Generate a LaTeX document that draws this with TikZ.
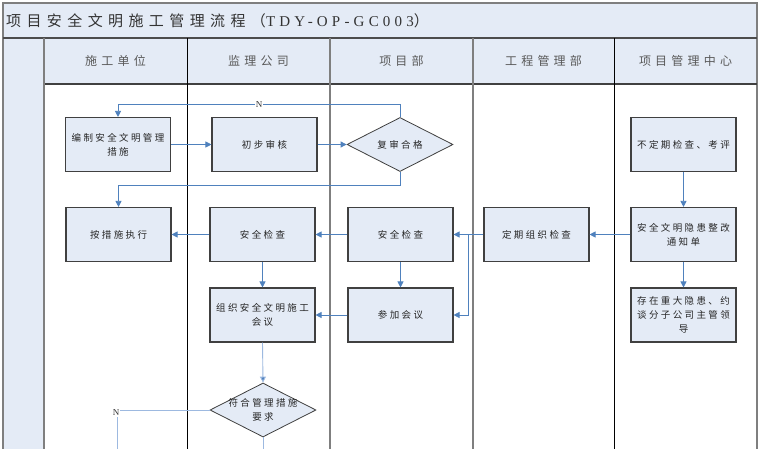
\documentclass[tikz,border=0pt]{standalone}
\usepackage{fontspec}
\newfontfamily\boxfont[LetterSpace=25]{Noto Sans CJK SC}
\newfontfamily\hdrfont[LetterSpace=35]{Noto Sans CJK SC}
\newfontfamily\ttlfont[LetterSpace=36]{Noto Sans CJK SC}
\newfontfamily\ttllat[LetterSpace=28]{Liberation Serif}
\setmainfont{Liberation Serif}
\usetikzlibrary{arrows.meta,shapes.geometric}
\definecolor{fillb}{HTML}{E4EBF6}
\definecolor{linb}{HTML}{4F81BD}
\definecolor{linl}{HTML}{9DB9E0}
\definecolor{bord}{HTML}{404040}
\definecolor{frm}{HTML}{7F7F7F}
\tikzset{
  stepbox/.style={draw=bord,line width=1.1pt,fill=fillb,minimum width=105pt,minimum height=54pt,inner sep=0pt,align=center,font=\boxfont\fontsize{9.5}{14}\selectfont,text=black!85},
  decbox/.style={draw=bord,line width=0.8pt,fill=fillb,diamond,minimum width=106pt,minimum height=54pt,inner sep=0pt},
  dectext/.style={align=center,inner sep=0pt,font=\boxfont\fontsize{9.5}{14}\selectfont,text=black!85},
  hdr/.style={font=\hdrfont\fontsize{12}{14}\selectfont,text=black!65,inner sep=0pt},
  arr/.style={draw=linb,line width=0.8pt,-{Triangle[length=6pt,width=6pt]}},
  arrl/.style={draw=linl,line width=0.9pt,-{Triangle[length=6pt,width=6pt,fill=linb]}},
  lin/.style={draw=linl,line width=0.9pt},
  nlab/.style={font=\fontsize{9}{10}\selectfont,fill=white,inner sep=1pt,text=black!80}
}
\begin{document}
\begin{tikzpicture}[x=1pt,y=-1pt]
\useasboundingbox (0,0) rectangle (760,449);
\clip (0,0) rectangle (760,449);
% backgrounds
\fill[white] (0,0) rectangle (760,449);
\fill[fillb] (3,3) rectangle (757,84);
\fill[fillb] (3,38) rectangle (44,460);
% frame lines
\draw[frm,line width=1.2pt] (3,460) -- (3,3) -- (757,3) -- (757,460);
\draw[black!70,line width=1.6pt] (3,38) -- (757,38);
\draw[black!75,line width=1.2pt] (44,84) -- (757,84);
\draw[frm,line width=1.1pt] (44,38) -- (44,460);
\draw[black,line width=0.9pt] (187,38) -- (187,460);
\draw[frm,line width=1.1pt] (330,38) -- (330,460);
\draw[frm,line width=1.1pt] (473,38) -- (473,460);
\draw[black,line width=0.9pt] (614,38) -- (614,460);
% title
\node[anchor=west,inner sep=0pt,font=\ttlfont\fontsize{15}{17}\selectfont,text=black!80] (title) at (6,21) {项目安全文明施工管理流程（{\ttllat TDY-OP-GC003}）};
% headers
\node[hdr] (h1) at (115.5,61) {施工单位};
\node[hdr] (h2) at (258.5,61) {监理公司};
\node[hdr] (h3) at (401.5,61) {项目部};
\node[hdr] (h4) at (543.5,61) {工程管理部};
\node[hdr] (h5) at (685.5,61) {项目管理中心};
% nodes
\node[stepbox] (b1) at (118,144.5) {编制安全文明管理\\措施};
\node[stepbox] (b2) at (264.5,144.5) {初步审核};
\node[decbox] (d1) at (400,144.5) {};
\node[dectext] (t1) at (d1) {复审合格};
\node[stepbox] (b3) at (118.5,234.5) {按措施执行};
\node[stepbox] (b4) at (262.5,234.5) {安全检查};
\node[stepbox] (b5) at (400.5,234.5) {安全检查};
\node[stepbox] (b6) at (262.5,315) {组织安全文明施工\\会议};
\node[stepbox] (b7) at (400.5,315) {参加会议};
\node[stepbox] (b8) at (536.5,234.5) {定期组织检查};
\node[stepbox] (b9) at (683.5,144.5) {不定期检查、考评};
\node[stepbox] (b10) at (683.5,234.5) {安全文明隐患整改\\通知单};
\node[stepbox] (b11) at (683.5,315) {存在重大隐患、约\\谈分子公司主管领\\导};
\node[decbox] (d2) at (263,410) {};
\node[dectext] (t2) at (d2) {符合管理措施\\要求};
% connectors
\draw[arr] (b1.east) -- (b2.west);
\draw[arr] (b2.east) -- (d1.west);
\draw[arr] (d1.north) -- ++(0,-13) -| node[nlab,pos=0.25] {N} (b1.north);
\draw[arr] (d1.south) -- ++(0,14) -| (b3.north);
\draw[arr] (b4.west) -- (b3.east);
\draw[arr] (b5.west) -- (b4.east);
\draw[arr] (b4.south) -- (b6.north);
\draw[arr] (b5.south) -- (b7.north);
\draw[arr] (b7.west) -- (b6.east);
\coordinate (j) at (468,234.5);
\draw[arr] (b8.west) -- (j) -- (b5.east);
\draw[arr] (j) |- (b7.east);
\draw[arr] (b9.south) -- (b10.north);
\draw[arr] (b10.west) -- (b8.east);
\draw[arr] (b10.south) -- (b11.north);
\draw[arrl] (b6.south) -- (d2.north);
\coordinate (e1) at (263,460);
\draw[lin] (d2.south) -- (e1);
\coordinate (c1) at (117,410);
\coordinate (c2) at (117,460);
\draw[lin] (d2.west) -- (c1) -- (c2);
\node[nlab] (n2) at (116,413) {N};
\end{tikzpicture}
\end{document}
